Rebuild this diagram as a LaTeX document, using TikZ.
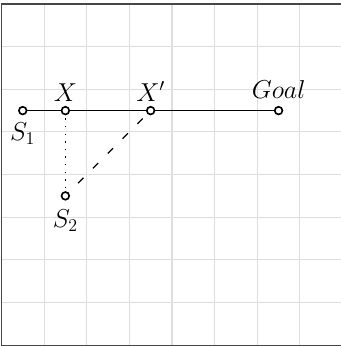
\documentclass[tikz,border=0pt]{standalone}
\usetikzlibrary{positioning}

\definecolor{gridgray}{RGB}{222,222,222}
\definecolor{framegray}{RGB}{70,70,70}

\begin{document}
\begin{tikzpicture}[
    state/.style={circle, draw, fill=white, line width=1.1pt, inner sep=0pt, minimum size=0.18cm},
    lbl/.style={font=\LARGE}]

  \useasboundingbox (-0.033,-0.02) rectangle (7.963,8.094);

  % background grid and frame
  \draw[gridgray, line width=0.7pt] (0,0) grid (8,8);
  \draw[framegray, line width=0.8pt] (0,0) rectangle (8,8);

  % states on the line
  \coordinate (s1) at (0.5,5.5);
  \coordinate (x) at (1.5,5.5);
  \coordinate (xp) at (3.5,5.5);
  \coordinate (goal) at (6.5,5.5);
  \coordinate (s2) at (1.5,3.5);

  % paths
  \draw[line width=0.8pt] (s1) -- (goal);
  \draw[line width=0.8pt, dash pattern=on 0.9pt off 4.2pt] (x) -- (s2);
  \draw[line width=0.8pt, dash pattern=on 5pt off 9pt, dash phase=2pt] (s2) -- (xp);

  % markers
  \node[state] (s1m) at (s1) {};
  \node[state] (xm) at (x) {};
  \node[state] (xpm) at (xp) {};
  \node[state] (goalm) at (goal) {};
  \node[state] (s2m) at (s2) {};

  % labels
  \node[lbl, above=0pt of xm, inner sep=3pt] (xlbl) {$X$};
  \node[lbl, above=0pt of xpm, inner sep=3pt] (xplbl) {$X'$};
  \node[lbl, above=0pt of goalm, inner sep=5pt] (goallbl) {$Goal$};
  \node[lbl, below=0pt of s1m, inner sep=5pt] (s1lbl) {$S_1$};
  \node[lbl, below=0pt of s2m, inner sep=6pt] (s2lbl) {$S_2$};

\end{tikzpicture}
\end{document}
